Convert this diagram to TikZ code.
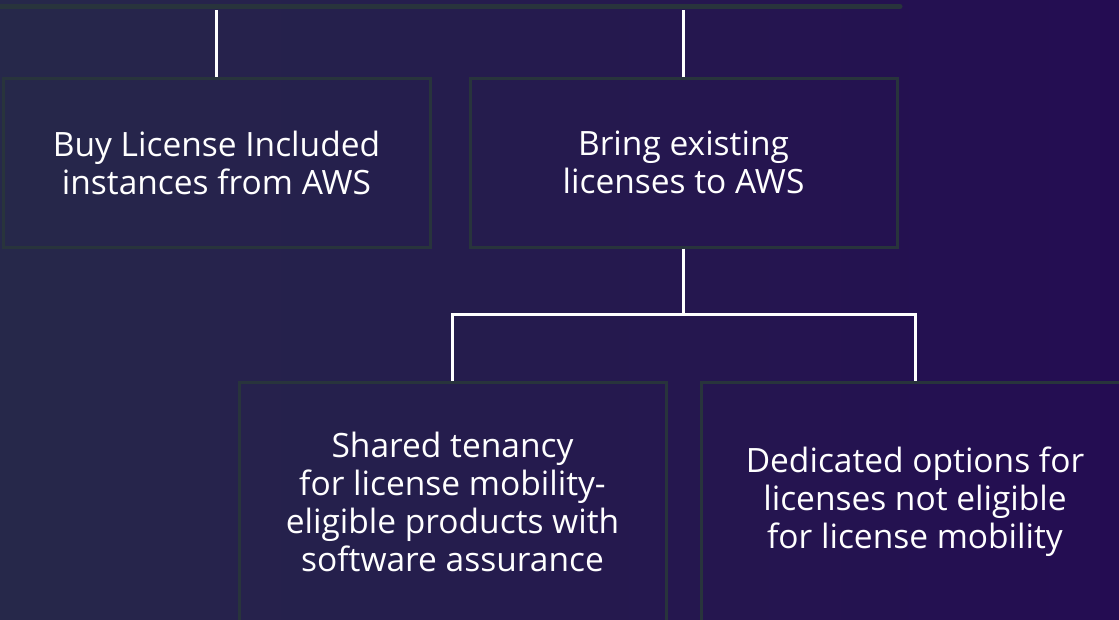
\documentclass[tikz,border=0pt]{standalone}
\usepackage{fontspec}
\setmainfont{Open Sans}
\usetikzlibrary{positioning,calc}
\definecolor{bgleft}{RGB}{38,40,74}
\definecolor{bgright}{RGB}{36,12,82}
\definecolor{edge}{RGB}{40,52,60}
\begin{document}
\begin{tikzpicture}[x=1pt,y=-1pt,font=\fontsize{33.5}{38}\selectfont]
\tikzstyle{b}=[draw=edge,line width=3pt,minimum width=427pt,align=center,text=white,inner sep=0pt]
\tikzstyle{w}=[white,line width=3pt]
\useasboundingbox (0,0) rectangle (1119,619);
\shade[left color=bgleft,right color=bgright] (0,0) rectangle (1119,619);
\draw[edge,line width=5pt,line cap=round] (-5,6.5) -- (900,6.5);
\node[b,minimum height=169pt] (buy) at (216.5,162.5) {Buy License Included\\ instances from AWS};
\node[b,minimum height=169pt] (bring) at (683.5,162.5) {Bring existing\\ licenses to AWS};
\node[b,minimum height=240pt] (shared) at (452.5,502) {Shared tenancy\\ for license mobility-\\ eligible products with\\ software assurance};
\node[b,minimum height=240pt] (dedicated) at (915,502) {Dedicated options for\\ licenses not eligible\\ for license mobility};
\coordinate (buytop) at (buy.north |- 0,10);
\coordinate (bringtop) at (bring.north |- 0,10);
\draw[w] (buytop) -- (buy.north);
\draw[w] (bringtop) -- (bring.north);
\draw[w] (bring.south) -- ++(0,66) coordinate (split);
\draw[w] (shared.north) |- (split) -| (dedicated.north);
\end{tikzpicture}
\end{document}
